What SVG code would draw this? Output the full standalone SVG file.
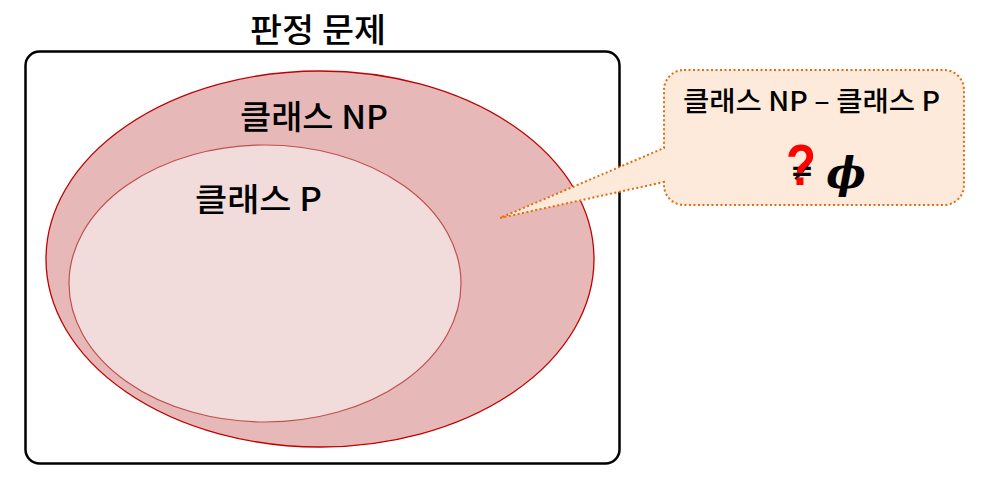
<svg xmlns="http://www.w3.org/2000/svg" width="992" height="504" viewBox="0 0 992 504">
<style>
.t{font-family:"Noto Sans CJK KR","Noto Sans",sans-serif;fill:#000;text-anchor:middle;font-weight:500}
</style>
<rect width="992" height="504" fill="#fff"/>
<g id="title"><text class="t" x="318" y="42" font-size="33" textLength="136" lengthAdjust="spacingAndGlyphs">판정 문제</text></g>
<g id="box"><rect x="25.5" y="51.5" width="594" height="412" rx="14" fill="#fff" stroke="#000" stroke-width="2.5"/></g>
<g id="np">
<ellipse cx="320" cy="259" rx="274" ry="188" fill="#E6B9B8" stroke="#C00000" stroke-width="1.3"/>
<text class="t" x="314" y="129" font-size="33" textLength="148" lengthAdjust="spacingAndGlyphs">클래스 NP</text>
</g>
<g id="p">
<ellipse cx="265" cy="283.5" rx="196" ry="138.5" fill="#F2DCDB" stroke="#C0504D" stroke-width="1.2"/>
<text class="t" x="258.5" y="211" font-size="32" textLength="127" lengthAdjust="spacingAndGlyphs">클래스 P</text>
</g>
<g id="callout">
<path d="M684,70 H944 A20,20 0 0 1 964,90 V185 A20,20 0 0 1 944,205 H684 A20,20 0 0 1 664,185 V182 L500,218 L664,148 V90 A20,20 0 0 1 684,70 Z" fill="#FDEADA" stroke="#E46C0A" stroke-width="2" stroke-dasharray="2,2.5"/>
<text class="t" x="811.5" y="111" font-size="27" textLength="257" lengthAdjust="spacingAndGlyphs">클래스 NP – 클래스 P</text>
<text x="802" y="180" font-family="DejaVu Sans,sans-serif" font-size="28" font-weight="bold" text-anchor="middle">≠</text>
<text x="801" y="185" font-family="Liberation Sans,sans-serif" font-size="58" font-weight="bold" fill="#FF0000" text-anchor="middle" textLength="30" lengthAdjust="spacingAndGlyphs">?</text>
<text x="846" y="188" font-family="DejaVu Serif,serif" font-size="42" font-weight="bold" font-style="italic" text-anchor="middle">ϕ</text>
</g>
</svg>
